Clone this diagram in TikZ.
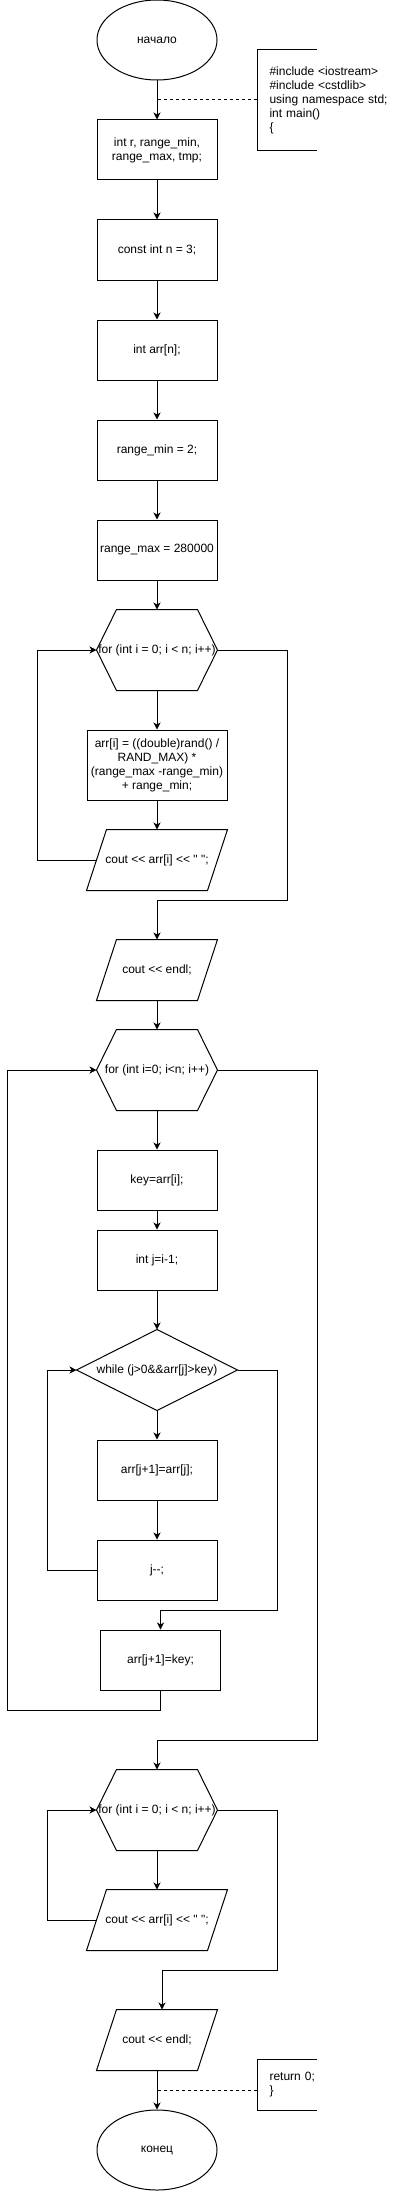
\documentclass[tikz,border=0pt]{standalone}
\usepackage{fontspec}
\newfontfamily\dfont{Liberation Sans}
\usetikzlibrary{arrows.meta,shapes.geometric}
\newcommand\myhex[1]{\draw ([xshift=20pt]#1.north west) -- ([xshift=-20pt]#1.north east) -- (#1.east) -- ([xshift=-20pt]#1.south east) -- ([xshift=20pt]#1.south west) -- (#1.west) -- cycle;}
\newcommand\mypar[1]{\draw ([xshift=20pt]#1.north west) -- (#1.north east) -- ([xshift=-20pt]#1.south east) -- (#1.south west) -- cycle;}
\begin{document}
\begin{tikzpicture}[x=1pt,y=-1pt,
  font=\dfont\fontsize{12}{14}\selectfont,
  line width=1pt,
  box/.style={draw, rectangle, minimum width=120pt, minimum height=60pt, inner sep=0pt, align=center},
  shapebase/.style={rectangle, minimum width=120pt, minimum height=80pt, inner sep=0pt, align=center},
  oval/.style={draw, ellipse, minimum width=120pt, minimum height=80pt, inner sep=0pt},
  note/.style={rectangle, anchor=west, text width=120pt, inner xsep=12pt, inner ysep=0pt, align=left},
  arr/.style={-{Stealth[length=7pt,width=7pt,inset=2pt]}},
  dline/.style={dash pattern=on 3pt off 3pt}]
\useasboundingbox (0,0) rectangle (408,2191);

% nodes
\node[oval] (start) at (157,40) {начало};
\node[note, minimum height=100pt] (c1) at (257,100) {\#include <iostream>\\\#include <cstdlib>\\using namespace std;\\int main()\\\{};
\node[box] (b1) at (157,150) {int r, range\_min,\\range\_max, tmp;};
\node[box] (b2) at (157,250) {const int n = 3;};
\node[box] (b3) at (157,350) {int arr[n];};
\node[box] (b4) at (157,450) {range\_min = 2;};
\node[box] (b5) at (157,550) {range\_max = 280000};
\node[shapebase] (h1) at (157,650) {for (int i = 0; i < n; i++)};
\node[box, minimum width=140pt, minimum height=70pt] (ar) at (157,765) {arr[i] = ((double)rand() /\\RAND\_MAX) *\\(range\_max -range\_min)\\+ range\_min;};
\node[shapebase, minimum width=140pt, minimum height=60pt] (p1) at (157,860) {cout << arr[i] << " ";};
\node[shapebase, minimum height=60pt] (p2) at (157,970) {cout << endl;};
\node[shapebase] (h2) at (157,1070) {for (int i=0; i<n; i++)};
\node[box] (key) at (157,1180) {key=arr[i];};
\node[box] (ij) at (157,1260) {int j=i-1;};
\node[shapebase, minimum width=160pt] (wh) at (157,1370) {while (j>0\&\&arr[j]>key)};
\node[box] (aj) at (157,1470) {arr[j+1]=arr[j];};
\node[box] (jm) at (157,1570) {j--;};
\node[box] (ak) at (160.5,1660) {arr[j+1]=key;};
\node[shapebase] (h3) at (157,1810) {for (int i = 0; i < n; i++)};
\node[shapebase, minimum width=140pt, minimum height=60pt] (p3) at (157,1920) {cout << arr[i] << " ";};
\node[shapebase, minimum height=60pt] (p4) at (157,2040) {cout << endl;};
\node[note, minimum height=50pt] (c2) at (257,2085) {return 0;\\\}};
\node[oval] (stop) at (157,2150) {конец};

% outlines of special shapes
\myhex{h1}
\myhex{h2}
\myhex{h3}
\mypar{p1}
\mypar{p2}
\mypar{p3}
\mypar{p4}
\draw (wh.north) -- (wh.east) -- (wh.south) -- (wh.west) -- cycle;
\draw (c1.north west) ++(60,0) -- (c1.north west) -- (c1.south west) -- ++(60,0);
\draw (c2.north west) ++(60,0) -- (c2.north west) -- (c2.south west) -- ++(60,0);

% straight connectors
\draw[arr] (start.south) -- (b1.north);
\draw[arr] (b1.south) -- (b2.north);
\draw[arr] (b2.south) -- (b3.north);
\draw[arr] (b3.south) -- (b4.north);
\draw[arr] (b4.south) -- (b5.north);
\draw[arr] (b5.south) -- (h1.north);
\draw[arr] (h1.south) -- (ar.north);
\draw[arr] (ar.south) -- (p1.north);
\draw[arr] (p2.south) -- (h2.north);
\draw[arr] (h2.south) -- (key.north);
\draw[arr] (key.south) -- (ij.north);
\draw[arr] (ij.south) -- (wh.north);
\draw[arr] (wh.south) -- (aj.north);
\draw[arr] (aj.south) -- (jm.north);
\draw[arr] (h3.south) -- (p3.north);
\draw[arr] (p4.south) -- (stop.north);

% loops
\coordinate (l1) at (37,860);
\coordinate (r1) at (287,900);
\coordinate (l2) at (7,1710);
\coordinate (r2) at (317,1740);
\coordinate (l3) at (47,1570);
\coordinate (r3) at (277,1610);
\coordinate (l4) at (47,1920);
\coordinate (r4) at (277,1970);
\coordinate (d2) at (257,2090);

\draw[arr] ([xshift=10pt]p1.west) -- (l1) |- (h1.west);
\draw[arr] (h1.east) -| (r1) -| (p2.north);
\draw[arr] (ak.south) |- (l2) |- (h2.west);
\draw[arr] (h2.east) -| (r2) -| (h3.north);
\draw[arr] (jm.west) -- (l3) |- (wh.west);
\draw[arr] (wh.east) -| (r3) -| (ak.north);
\draw[arr] ([xshift=10pt]p3.west) -- (l4) |- (h3.west);
\draw[arr] (h3.east) -| (r4) -| ([xshift=5pt]p4.north);

% comment links
\draw[dline] (c1.west) -- (c1.west -| b1.north);
\draw[dline] (d2) -- (d2 -| stop.north);
\end{tikzpicture}
\end{document}
